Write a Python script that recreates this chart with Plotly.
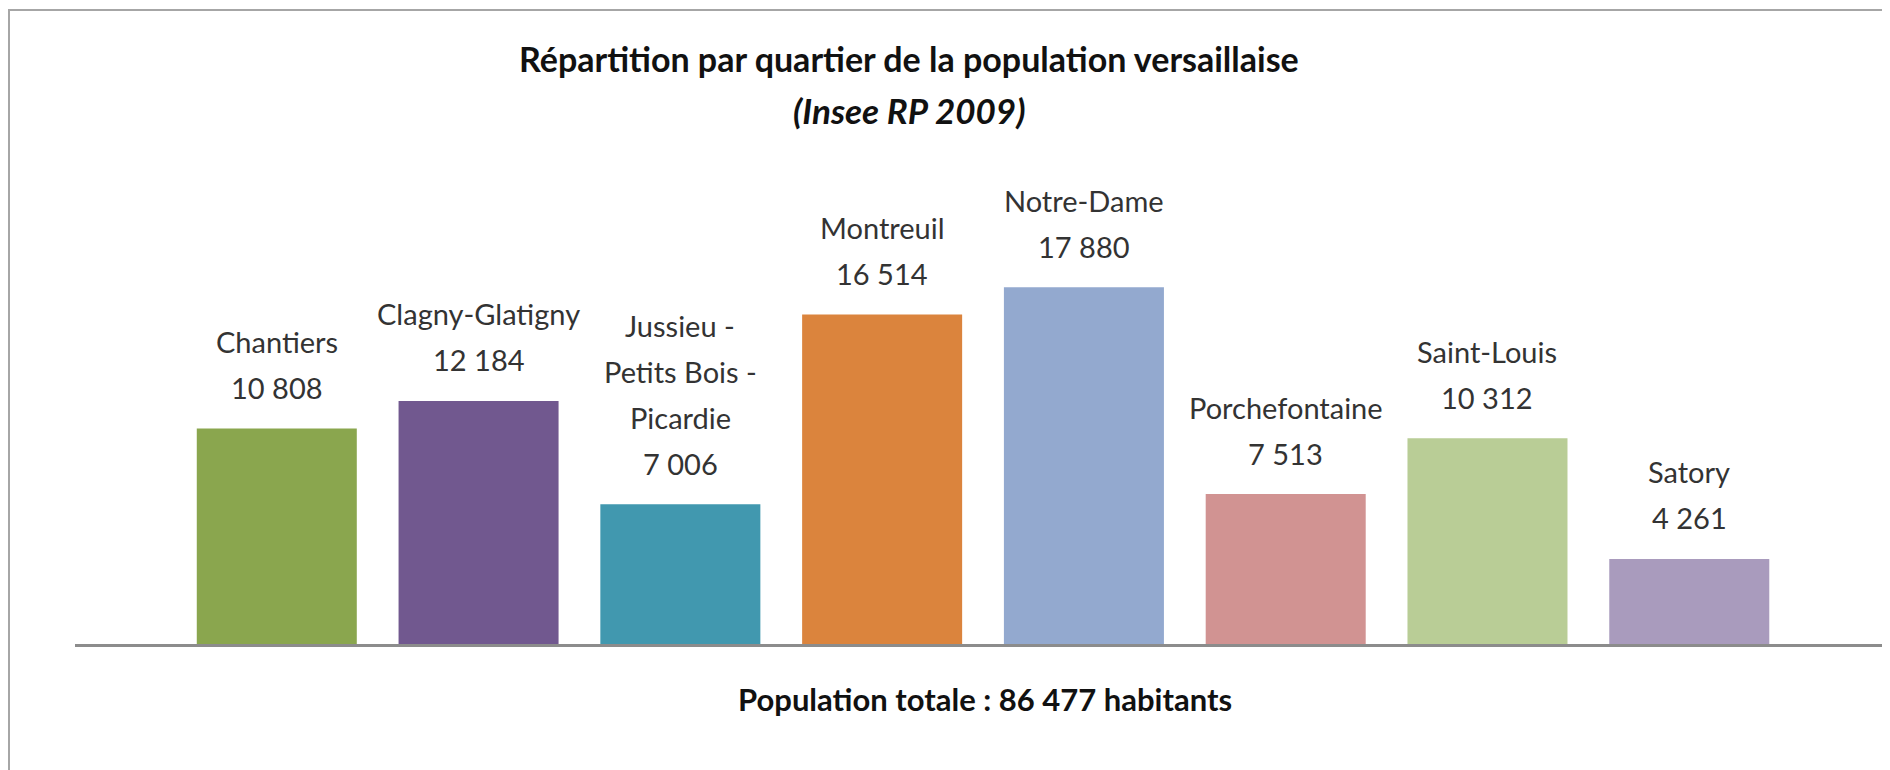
import plotly.graph_objects as go

# ---- data ----
quartiers = ["Chantiers", "Clagny-Glatigny", "Jussieu - Petits Bois - Picardie", "Montreuil",
             "Notre-Dame", "Porchefontaine", "Saint-Louis", "Satory"]
label_lines = [["Chantiers"], ["Clagny-Glatigny"], ["Jussieu -", "Petits Bois -", "Picardie"],
               ["Montreuil"], ["Notre-Dame"], ["Porchefontaine"], ["Saint-Louis"], ["Satory"]]
population = [10808, 12184, 7006, 16514, 17880, 7513, 10312, 4261]
colors = ["#8AA64E", "#71588F", "#4198AF", "#DB843D", "#93A9CF", "#D19392", "#B9CD96", "#A99BBD"]
title = "Répartition par quartier de la population versaillaise"
subtitle = "(Insee RP 2009)"
footer = "Population totale : 86 477 habitants"

OFF = 8  # page body margin
W, H = 1890 - OFF, 770 - OFF
ML, MR, MT, MB = 75 - OFF, 5, 245 - OFF, 126
PW, PH = W - ML - MR, H - MT - MB


def px(x):
    """page pixel x -> paper coordinate"""
    return (x - OFF - ML) / PW


def py(y):
    """page pixel y -> paper coordinate"""
    return (H - MB - (y - OFF)) / PH


def fmt(v):
    return f"{v:,}".replace(",", " ")


xs = list(range(len(quartiers)))
fig = go.Figure(go.Bar(x=xs, y=population, marker=dict(color=colors, line=dict(width=0)),
                       hoverinfo="skip"))

FONT = "Lato"
LBL = dict(family=FONT, size=29, color="#333333")
ann = []
for i, (lines, v) in enumerate(zip(label_lines, population)):
    all_lines = lines + [fmt(v)]
    n = len(all_lines)
    for k, t in enumerate(all_lines):
        ann.append(dict(x=i, y=v, xref="x", yref="y", text=t, showarrow=False,
                        xanchor="center", yanchor="middle",
                        yshift=41 + 46 * (n - 1 - k), font=LBL))

ann.append(dict(x=px(909), y=py(58), xref="paper", yref="paper", text=f"<b>{title}</b>",
                showarrow=False, xanchor="center", yanchor="middle",
                font=dict(family=FONT, size=34, color="#111111")))
ann.append(dict(x=px(909), y=py(110), xref="paper", yref="paper", text=f"<b><i>{subtitle}</i></b>",
                showarrow=False, xanchor="center", yanchor="middle",
                font=dict(family=FONT, size=35, color="#111111")))
ann.append(dict(x=px(985), y=py(699), xref="paper", yref="paper", text=f"<b>{footer}</b>",
                showarrow=False, xanchor="center", yanchor="middle",
                font=dict(family=FONT, size=31, color="#111111")))

fig.update_layout(
    width=W, height=H,
    margin=dict(l=ML, r=MR, t=MT, b=MB),
    paper_bgcolor="white", plot_bgcolor="white",
    showlegend=False,
    bargap=0.207,
    annotations=ann,
    shapes=[dict(type="rect", xref="paper", yref="paper",
                 x0=px(9), x1=px(1890 + 20), y0=py(770 + 20), y1=py(10),
                 line=dict(color="#a6a6a6", width=2), fillcolor="rgba(0,0,0,0)", layer="below")],
    xaxis=dict(range=[-1.0, 7.97], showticklabels=False, ticks="", showgrid=False, zeroline=False,
               showline=True, linecolor="#8c8c8c", linewidth=3, fixedrange=True),
    yaxis=dict(range=[0, 20000], visible=False, showgrid=False, zeroline=False, fixedrange=True),
)

fig.write_html("out.html", config={"displayModeBar": False})
